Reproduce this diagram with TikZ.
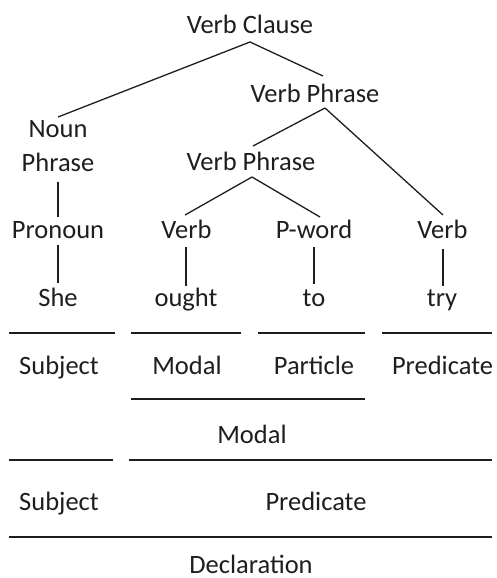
\documentclass[tikz,border=0pt]{standalone}
\usepackage{fontspec}
\setmainfont{Carlito}
\usetikzlibrary{calc}
\definecolor{ink}{HTML}{1E1E1E}
\tikzset{
  lbl/.style={anchor=base, inner sep=0pt, text=ink, font=\fontsize{26.5}{34}\selectfont},
  edge/.style={draw=ink, line width=1.3pt},
  rule/.style={draw=ink, line width=1.6pt}
}
\begin{document}
\begin{tikzpicture}[x=1pt,y=-1pt]
\useasboundingbox (0,0) rectangle (496,578);
% tree nodes
\node[lbl] (vc) at (250,34) {Verb Clause};
\node[lbl] (vp1) at (315,102) {Verb Phrase};
\node[lbl, anchor=north, align=center] (np) at (58,120) {Noun\\Phrase};
\node[lbl] (vp2) at (251,170) {Verb Phrase};
\node[lbl] (pron) at (58,238) {Pronoun};
\node[lbl] (v1) at (186.5,238) {Verb};
\node[lbl] (pw) at (314,238) {P-word};
\node[lbl] (v3) at (442.5,238) {Verb};
\node[lbl] (she) at (58,306) {She};
\node[lbl] (ought) at (186,306) {ought};
\node[lbl] (to) at (314,306) {to};
\node[lbl] (try) at (442,306) {try};
% connectors
\draw[edge] ($(vc.base)+(0,8)$) -- ($(np.north)+(0,-3)$);
\draw[edge] ($(vc.base)+(0,8)$) -- ($(vp1.base)+(8,-26)$);
\draw[edge] ($(vp1.base)+(10,6)$) -- ($(vp2.base)+(2,-24)$);
\draw[edge] ($(vp1.base)+(10,6)$) -- ($(v3.base)+(0.5,-23)$);
\draw[edge] ($(vp2.base)+(1,7)$) -- ($(v1.base)+(-1.5,-23)$);
\draw[edge] ($(vp2.base)+(1,7)$) -- ($(pw.base)+(6,-21)$);
\draw[edge] ($(np.south)+(0,10)$) -- ($(pron.base)+(0,-21)$);
\draw[edge] ($(pron.base)+(0,7)$) -- ($(she.base)+(0,-23)$);
\draw[edge] ($(v1.base)+(-0.5,9)$) -- ($(ought.base)+(0,-20)$);
\draw[edge] ($(pw.base)+(0,9)$) -- ($(to.base)+(0,-22)$);
\draw[edge] ($(v3.base)+(0.5,11)$) -- ($(try.base)+(1,-20)$);
% bracket rules and labels
\draw[rule] (9,333) -- (115,333);
\draw[rule] (131,333) -- (241,333);
\draw[rule] (258,333) -- (365,333);
\draw[rule] (382,333) -- (492,333);
\node[lbl] (subj1) at (59,374) {Subject};
\node[lbl] (modal1) at (187,374) {Modal};
\node[lbl] (part) at (314,374) {Particle};
\node[lbl] (pred1) at (442.5,374) {Predicate};
\draw[rule] (131,399) -- (365,399);
\node[lbl] (modal2) at (252,443) {Modal};
\draw[rule] (9,460) -- (113,460);
\draw[rule] (129,460) -- (492,460);
\node[lbl] (subj2) at (59,510) {Subject};
\node[lbl] (pred2) at (316,510) {Predicate};
\draw[rule] (9,537) -- (492,537);
\node[lbl] (decl) at (251,573.5) {Declaration};
\end{tikzpicture}
\end{document}
